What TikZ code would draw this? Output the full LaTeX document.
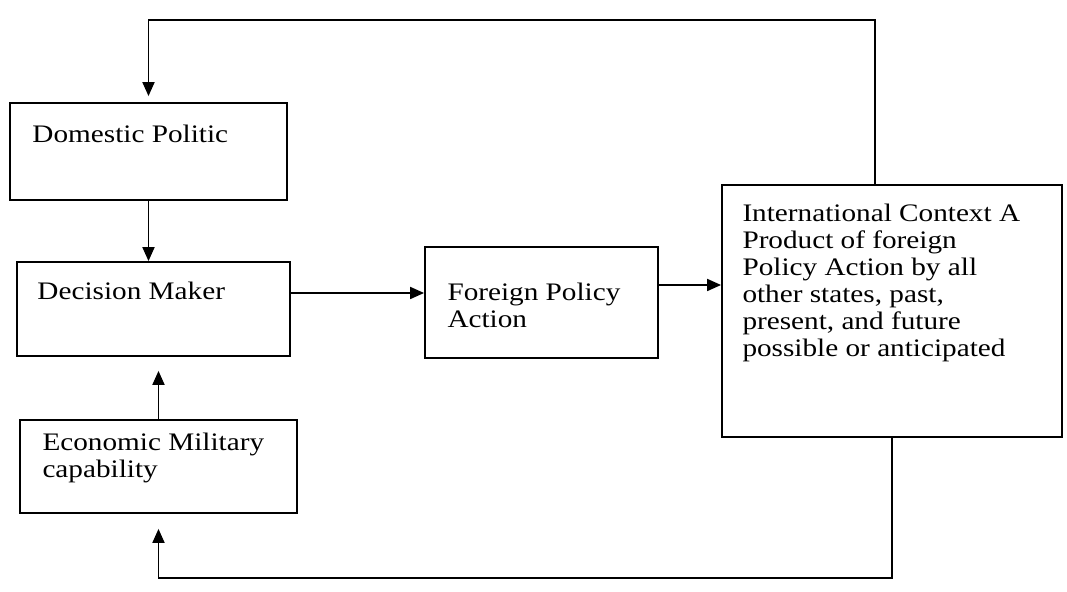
\documentclass[tikz,border=0pt]{standalone}
\usepackage{fontspec}
\setmainfont{Liberation Serif}[FakeStretch=1.16]
\usetikzlibrary{positioning,arrows.meta,calc}
\newcommand\labfont{\fontsize{12.6}{13.5}\selectfont}

\begin{document}
\begin{tikzpicture}[x=0.5pt, y=-0.5pt,
  blk/.style={draw, line width=0.9pt, inner sep=0pt},
  lab/.style={anchor=north west, inner sep=0pt, align=left, font=\labfont},
  arr/.style={-{Triangle[length=7pt,width=6pt]}, line width=0.9pt}]
\useasboundingbox (0,0) rectangle (1067,592);
% boxes
\node[blk, minimum width=138.5pt, minimum height=48.5pt] (dom) at (148.5,151.5) {};
\node[blk, minimum width=136.5pt, minimum height=47pt] (dm) at (153.5,309) {};
\node[blk, minimum width=138.5pt, minimum height=46.5pt] (eco) at (158.5,466.5) {};
\node[blk, minimum width=116.5pt, minimum height=55.5pt] (fpa) at (541.5,302.5) {};
\node[blk, minimum width=170pt, minimum height=126pt] (ctx) at (892,311) {};
% texts
\node[lab] (domlab) at ([xshift=11.5pt,yshift=-11.5pt]dom.north west) {Domestic Politic};
\node[lab] (dmlab) at ([xshift=10.5pt,yshift=-10.5pt]dm.north west) {Decision Maker};
\node[lab] (ecolab) at ([xshift=11.5pt,yshift=-7pt]eco.north west) {Economic Military\\capability};
\node[lab] (fpalab) at ([xshift=11.5pt,yshift=-18.5pt]fpa.north west) {Foreign Policy\\Action};
\node[lab] (ctxlab) at ([xshift=10.5pt,yshift=-10pt]ctx.north west)
  {International Context A\\Product of foreign\\Policy Action by all\\other states, past,\\present, and future\\possible or anticipated};
% connectors
\coordinate (fbtop) at (0,20);
\coordinate (fbbot) at (0,578);
\draw[arr, shorten >=3pt] ([xshift=-8.5pt]ctx.north) |- (fbtop -| dom.north) -- (dom.north);
\draw[arr] (dom.south) -- (dom.south |- dm.north);
\draw[arr] ([yshift=8pt]dm.east) -- ([yshift=8pt]dm.east -| fpa.west);
\draw[arr] ([yshift=8.75pt]fpa.east) -- ([yshift=8.75pt]fpa.east -| ctx.west);
\draw[arr, shorten >=7pt] (eco.north) -- (eco.north |- dm.south);
\draw[arr, shorten >=7.5pt] (ctx.south) |- (fbbot -| eco.south) -- (eco.south);
\end{tikzpicture}
\end{document}
